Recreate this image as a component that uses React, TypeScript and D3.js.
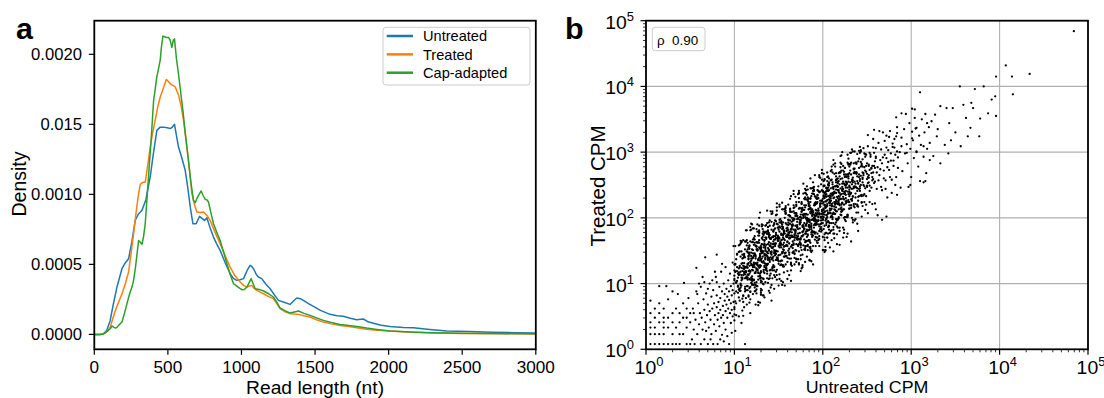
import React from "react";
import * as d3 from "d3";

// ---------- Panel a: read-length density ----------
const lengthTicks = [0, 500, 1000, 1500, 2000, 2500, 3000];
const densityTicks = [0, 0.0005, 0.001, 0.0015, 0.002];
const densityTickLabels = ["0.0000", "0.0005", "0.0010", "0.015", "0.0020"];
const seriesNames = ["Untreated", "Treated", "Cap-adapted"];
const seriesColors = ["#1f77b4", "#ff7f0e", "#2ca02c"];

const untreated: [number, number][] = [
  [0, 0], [40, 0], [63, 0.000005], [85, 0.00003], [108, 0.0001], [130, 0.00022], [154, 0.000338], [188, 0.000469], [210, 0.00051], [233, 0.00054], [255, 0.00066], [278, 0.000814], [300, 0.00086], [324, 0.000886], [350, 0.00096], [380, 0.001124], [400, 0.00128], [425, 0.001457], [448, 0.00148], [470, 0.00148], [495, 0.001475], [516, 0.00147], [530, 0.00148], [545, 0.0015], [572, 0.001338], [595, 0.00126], [618, 0.00117], [635, 0.00105], [652, 0.00091], [670, 0.00079], [692, 0.00079], [715, 0.000843], [730, 0.00083], [749, 0.000814], [765, 0.000833], [790, 0.00075], [810, 0.000695], [830, 0.00065], [855, 0.0006], [890, 0.00051], [923, 0.000433], [945, 0.0004], [968, 0.000386], [990, 0.00039], [1014, 0.000398], [1040, 0.00046], [1059, 0.000493], [1070, 0.000485], [1082, 0.000469], [1100, 0.00043], [1115, 0.00041], [1138, 0.000398], [1165, 0.00036], [1195, 0.000326], [1225, 0.00028], [1251, 0.000243], [1290, 0.00023], [1330, 0.000214], [1355, 0.00024], [1376, 0.00026], [1400, 0.000255], [1421, 0.000243], [1455, 0.00022], [1489, 0.0002], [1540, 0.00017], [1602, 0.000143], [1650, 0.000133], [1692, 0.000129], [1740, 0.000115], [1783, 0.000105], [1828, 0.00011], [1860, 0.00009], [1896, 0.00008], [1950, 0.000065], [2009, 0.000057], [2100, 0.00005], [2168, 0.000048], [2280, 0.000035], [2394, 0.000024], [2550, 0.00002], [2700, 0.000016], [2850, 0.000012], [3000, 0.00001],
];

const treated: [number, number][] = [
  [0, 0], [45, 0], [75, 0.00001], [95, 0.00003], [108, 0.000052], [125, 0.00011], [143, 0.000171], [165, 0.00023], [188, 0.00029], [210, 0.00036], [233, 0.000445], [250, 0.00058], [267, 0.00072], [285, 0.00088], [301, 0.001005], [312, 0.00107], [324, 0.001083], [346, 0.001088], [362, 0.0012], [380, 0.001338], [395, 0.00143], [414, 0.00153], [430, 0.00162], [448, 0.001695], [470, 0.00176], [489, 0.00182], [500, 0.00181], [516, 0.00179], [530, 0.00178], [550, 0.001767], [572, 0.00171], [590, 0.00163], [606, 0.00153], [622, 0.0014], [640, 0.00124], [652, 0.00112], [663, 0.001005], [680, 0.00093], [697, 0.000874], [720, 0.00087], [742, 0.000874], [765, 0.00085], [787, 0.000814], [820, 0.00073], [855, 0.000648], [890, 0.00056], [923, 0.00048], [955, 0.00042], [991, 0.000374], [1015, 0.00035], [1037, 0.000338], [1055, 0.000345], [1070, 0.00035], [1085, 0.00033], [1105, 0.000314], [1130, 0.0003], [1150, 0.00029], [1185, 0.00027], [1217, 0.000255], [1240, 0.00022], [1262, 0.000184], [1295, 0.000162], [1330, 0.000148], [1360, 0.000145], [1387, 0.000143], [1425, 0.000133], [1466, 0.000124], [1510, 0.000105], [1557, 0.000088], [1610, 0.000075], [1670, 0.000064], [1730, 0.000056], [1783, 0.000048], [1850, 0.000037], [1920, 0.00003], [2009, 0.000024], [2150, 0.000016], [2300, 0.00001], [2500, 0.000006], [2750, 0.000004], [3000, 0.000003],
];

const capAdapted: [number, number][] = [
  [0, 0], [40, 0], [63, 0.000003], [85, 0.00002], [108, 0.00004], [120, 0.00006], [131, 0.000052], [145, 0.000045], [154, 0.00005], [170, 0.00007], [188, 0.000088], [205, 0.00015], [222, 0.00022], [240, 0.00029], [256, 0.000338], [267, 0.000386], [280, 0.00048], [292, 0.00059], [301, 0.00067], [312, 0.00066], [324, 0.000643], [335, 0.0007], [346, 0.00079], [360, 0.001], [376, 0.00124], [390, 0.00145], [403, 0.00167], [415, 0.00176], [425, 0.00184], [437, 0.0019], [448, 0.00196], [456, 0.00205], [466, 0.00213], [478, 0.002125], [490, 0.00212], [505, 0.00212], [516, 0.0021], [527, 0.00205], [537, 0.0021], [545, 0.00211], [558, 0.00197], [572, 0.00186], [588, 0.00172], [602, 0.0016], [620, 0.00142], [640, 0.00124], [657, 0.00108], [674, 0.000957], [686, 0.00094], [697, 0.00097], [712, 0.001], [726, 0.001024], [740, 0.00099], [754, 0.000964], [766, 0.00096], [776, 0.000945], [792, 0.00087], [810, 0.00079], [832, 0.00073], [855, 0.00067], [878, 0.00059], [901, 0.000505], [923, 0.00043], [946, 0.000362], [975, 0.00034], [1002, 0.000319], [1020, 0.00032], [1037, 0.000338], [1052, 0.00037], [1066, 0.000398], [1080, 0.00036], [1093, 0.000326], [1120, 0.00032], [1150, 0.00031], [1185, 0.00029], [1217, 0.000267], [1240, 0.00023], [1262, 0.00019], [1295, 0.00017], [1330, 0.000152], [1360, 0.00016], [1387, 0.000167], [1425, 0.00015], [1466, 0.000136], [1510, 0.000118], [1557, 0.0001], [1610, 0.000085], [1670, 0.000071], [1730, 0.000064], [1783, 0.000057], [1850, 0.000045], [1920, 0.000035], [2009, 0.000024], [2150, 0.000017], [2300, 0.000012], [2500, 0.000008], [2750, 0.000006], [3000, 0.000004],
];

// ---------- Panel b: CPM scatter, values as 100*log10(CPM) [untreated, treated] ----------
const cpmDecades = [0, 1, 2, 3, 4, 5];
const rhoText = "ρ  0.90";

const scatterLow: [number, number][] = [
  [5,8],[10,8],[15,8],[20,8],[25,8],[30,8],[34,8],[38,8],[46,8],[50,8],[5,23],[10,23],[15,23],[20,23],[30,23],[38,23],[42,23],[5,33],[10,33],[20,33],[25,33],[34,33],[46,33],[5,41],[15,41],[20,41],[30,41],[38,41],[50,41],[10,48],[20,48],[25,48],[42,48],[46,48],[5,55],[15,55],[30,55],[38,55],[50,55],[10,62],[20,62],[34,62],[46,62],[5,74],[15,70],[25,76],[42,70],[48,78],[15,96],[23,96],[43,101],[57,124],[67,140],[30,88],[36,84],
  [52,15],[53,62],[54,30],[55,8],[56,45],[57,88],[58,23],[59,70],[60,38],[61,55],[62,8],[62,95],[63,48],[64,30],[65,76],[66,60],[66,15],[67,41],[68,85],[69,52],[70,8],[70,68],[71,33],[72,100],[72,58],[73,45],[74,23],[74,80],[75,62],[76,90],[76,8],[77,38],[77,70],[78,52],[79,110],[79,28],[80,64],[80,82],[81,45],[81,8],[82,72],[82,55],[83,95],[83,35],[84,60],[84,78],[85,118],[85,48],[86,22],[86,88],[87,66],[87,52],[88,100],[88,40],[89,74],[89,84],[90,58],[90,125],[90,30],[91,92],[91,68],[92,48],[92,80],[93,105],[93,62],[94,8],[94,88],[94,75],[95,55],[95,115],[96,70],[96,40],[96,96],[97,82],[97,60],[98,132],[98,90],[98,50],[99,72],[99,100],[100,64],[100,85],[100,112],[100,44],[84,15],[88,12],[92,20],[97,25],[66,102],[78,118],[58,84],[64,110],[70,92],[75,105],[86,130],[54,55],[60,100],[68,28],[73,15],[80,102],
  [112,8],[101,28],[129,71],[142,74],[118,55],[108,40],[80,144],[99,157],[108,164],[120,190],[129,208],
];

const scatterMid: [number, number][] = [
  [100,105],[101,130],[102,70],[103,119],[104,95],[105,148],[106,114],[107,89],[108,130],[109,109],[110,166],[111,64],[112,125],[113,109],[114,149],[115,90],[116,142],[117,120],[118,186],[119,106],[120,138],[121,84],[122,132],[123,162],[124,118],[125,156],[126,132],[127,67],[128,177],[129,128],[130,151],
  [130,109],[129,143],[128,188],[127,116],[126,150],[125,96],[124,157],[123,125],[122,131],[121,167],[120,104],[119,138],[118,76],[117,144],[116,113],[115,152],[114,126],[113,90],[112,164],[111,116],[110,139],[109,77],[108,124],[107,98],[106,149],[105,113],[104,86],[103,125],[102,102],[101,157],[100,53],
  [100,120],[101,73],[102,137],[103,104],[104,115],[105,91],[106,159],[107,100],[108,149],[109,59],[110,127],[111,118],[112,140],[113,78],[114,158],[115,96],[116,131],[117,115],[118,181],[119,109],[120,152],[121,125],[122,98],[123,146],[124,68],[125,163],[126,121],[127,136],[128,178],[129,112],[130,155],
  [130,89],[129,141],[128,162],[127,127],[126,96],[125,183],[124,116],[123,144],[122,128],[121,163],[120,100],[119,135],[118,106],[117,147],[116,80],[115,162],[114,111],[113,124],[112,114],[111,131],[110,82],[109,144],[108,109],[107,118],[106,92],[105,158],[104,97],[103,144],[102,52],[101,118],[100,107],
  [130,135],[131,160],[132,100],[133,149],[134,125],[135,178],[136,144],[137,119],[138,160],[139,139],[140,196],[141,94],[142,155],[143,139],[144,179],[145,120],[146,172],[147,150],[148,216],[149,136],[150,168],[151,114],[152,162],[153,192],[154,148],[155,186],[156,162],[157,97],[158,207],[159,158],[160,181],
  [160,139],[159,173],[158,218],[157,146],[156,180],[155,126],[154,187],[153,155],[152,161],[151,197],[150,134],[149,168],[148,106],[147,174],[146,143],[145,182],[144,156],[143,120],[142,194],[141,146],[140,169],[139,107],[138,154],[137,128],[136,179],[135,143],[134,116],[133,155],[132,132],[131,187],[130,83],
  [130,150],[131,103],[132,167],[133,134],[134,145],[135,121],[136,189],[137,130],[138,179],[139,89],[140,157],[141,148],[142,170],[143,108],[144,188],[145,126],[146,161],[147,145],[148,211],[149,139],[150,182],[151,155],[152,128],[153,176],[154,98],[155,193],[156,151],[157,166],[158,208],[159,142],[160,185],
  [160,119],[159,171],[158,192],[157,157],[156,126],[155,213],[154,146],[153,174],[152,158],[151,193],[150,130],[149,165],[148,136],[147,177],[146,110],[145,192],[144,141],[143,154],[142,144],[141,161],[140,112],[139,174],[138,139],[137,148],[136,122],[135,188],[134,127],[133,174],[132,82],[131,148],[130,137],
  [130,119],[131,146],[132,171],[133,99],[134,158],[135,140],[136,168],[137,115],[138,146],[139,193],[140,136],[141,168],[142,98],[143,160],[144,128],[145,190],[146,147],[147,169],[148,121],[149,185],[150,157],[151,217],[152,144],[153,166],[154,135],[155,184],[156,117],[157,176],[158,206],[159,158],[160,171],
];

const scatterCore: [number, number][] = [
  [161,197],[162,169],[163,229],[164,156],[165,178],[166,147],[167,196],[168,129],[169,188],[170,218],[171,170],[172,183],[173,160],[174,215],[175,169],[176,210],[177,125],[178,203],[179,183],[180,231],[181,157],[182,196],[183,181],[184,221],[185,155],[186,209],[187,197],[188,171],[189,246],[190,185],[191,219],
  [191,196],[190,219],[189,157],[188,204],[187,178],[186,229],[185,193],[184,166],[183,205],[182,182],[181,237],[180,133],[179,192],[178,174],[177,212],[176,151],[175,201],[174,177],[173,241],[172,159],[171,189],[170,133],[169,179],[168,207],[167,161],[166,197],[165,171],[164,104],[163,212],[162,161],[161,182],
  [161,178],[162,169],[163,191],[164,129],[165,209],[166,147],[167,182],[168,166],[169,232],[170,160],[171,203],[172,176],[173,149],[174,197],[175,119],[176,214],[177,172],[178,187],[179,229],[180,163],[181,206],[182,141],[183,195],[184,218],[185,185],[186,156],[187,245],[188,180],[189,210],[190,196],[191,233],
  [191,222],[190,196],[189,129],[188,237],[187,186],[186,207],[185,164],[184,198],[183,243],[182,171],[181,205],[180,151],[179,212],[178,180],[177,186],[176,222],[175,159],[174,193],[173,131],[172,199],[171,168],[170,207],[169,181],[168,145],[167,219],[166,171],[165,194],[164,132],[163,179],[162,153],[161,204],
  [161,150],[162,177],[163,202],[164,130],[165,189],[166,171],[167,199],[168,146],[169,177],[170,224],[171,167],[172,199],[173,129],[174,191],[175,159],[176,221],[177,178],[178,200],[179,152],[180,216],[181,188],[182,248],[183,175],[184,197],[185,166],[186,215],[187,148],[188,207],[189,237],[190,189],[191,202],
  [192,212],[193,165],[194,229],[195,196],[196,207],[197,183],[198,251],[199,192],[200,241],[201,151],[202,219],[203,210],[204,232],[205,170],[206,250],[207,188],[208,223],[209,207],[210,273],[211,201],[212,244],[213,217],[214,190],[215,238],[216,160],[217,255],[218,213],[219,228],[220,270],[221,204],[222,247],
  [222,211],[221,236],[220,259],[219,185],[218,242],[217,222],[216,248],[215,193],[214,222],[213,267],[212,208],[211,238],[210,166],[209,226],[208,192],[207,252],[206,207],[205,227],[204,177],[203,239],[202,209],[201,267],[200,192],[199,212],[198,179],[197,226],[196,157],[195,214],[194,242],[193,192],[192,203],
  [192,197],[193,222],[194,162],[195,211],[196,187],[197,240],[198,206],[199,181],[200,222],[201,201],[202,258],[203,156],[204,217],[205,201],[206,241],[207,182],[208,234],[209,212],[210,278],[211,198],[212,230],[213,176],[214,224],[215,254],[216,210],[217,248],[218,224],[219,159],[220,269],[221,220],[222,243],
  [222,260],[221,216],[220,229],[219,269],[218,201],[217,242],[216,175],[215,227],[214,248],[213,213],[212,182],[211,269],[210,202],[209,230],[208,214],[207,249],[206,186],[205,221],[204,192],[203,233],[202,166],[201,248],[200,197],[199,210],[198,200],[197,217],[196,168],[195,230],[194,195],[193,204],[192,178],
];

const scatterDense: [number, number][] = [
  [105,123],[106,89],[107,161],[108,105],[109,138],[110,81],[111,122],[112,152],[113,117],[114,68],[115,148],[116,137],[117,107],[118,164],[119,128],[120,98],[121,146],[122,184],[123,116],[124,138],[125,91],[126,162],[127,127],[128,200],[129,115],[130,149],[131,138],[132,176],[133,107],[134,161],[135,130],
  [135,137],[134,177],[133,121],[132,147],[131,190],[130,105],[129,153],[128,135],[127,163],[126,120],[125,85],[124,141],[123,172],[122,105],[121,151],[120,121],[119,130],[118,87],[117,158],[116,138],[115,106],[114,181],[113,118],[112,92],[111,145],[110,123],[109,107],[108,163],[107,94],[106,125],[105,50],
  [115,129],[116,82],[117,153],[118,118],[119,191],[120,106],[121,140],[122,129],[123,167],[124,98],[125,152],[126,121],[127,137],[128,179],[129,111],[130,153],[131,133],[132,189],[133,82],[134,165],[135,151],[136,127],[137,176],[138,101],[139,151],[140,188],[141,140],[142,170],[143,123],[144,164],[145,151],
  [145,167],[144,135],[143,210],[142,147],[141,121],[140,174],[139,152],[138,136],[137,192],[136,123],[135,154],[134,79],[133,159],[132,141],[131,169],[130,102],[129,145],[128,124],[127,173],[126,129],[125,157],[124,89],[123,144],[122,106],[121,184],[120,128],[119,147],[118,95],[117,127],[116,155],[115,114],
  [125,102],[126,152],[127,136],[128,166],[129,125],[130,92],[131,150],[132,183],[133,118],[134,166],[135,138],[136,149],[137,108],[138,181],[139,163],[140,133],[141,210],[142,149],[143,125],[144,180],[145,160],[146,146],[147,204],[148,137],[149,170],[150,97],[151,179],[152,163],[153,193],[154,128],[155,173],
  [155,128],[154,167],[153,195],[152,158],[151,107],[150,185],[149,172],[148,140],[147,195],[146,157],[145,125],[144,171],[143,207],[142,137],[141,157],[140,108],[139,177],[138,140],[137,211],[136,124],[135,156],[134,143],[133,179],[132,108],[131,160],[130,127],[129,141],[128,181],[127,111],[126,151],[125,129],
  [135,170],[136,159],[137,129],[138,186],[139,150],[140,120],[141,168],[142,206],[143,138],[144,160],[145,113],[146,184],[147,149],[148,222],[149,137],[150,171],[151,160],[152,198],[153,129],[154,183],[155,152],[156,168],[157,210],[158,142],[159,184],[160,164],[161,220],[162,113],[163,196],[164,182],[165,158],
  [165,127],[164,183],[163,214],[162,147],[161,193],[160,163],[159,172],[158,129],[157,200],[156,180],[155,148],[154,223],[153,160],[152,134],[151,187],[150,165],[149,149],[148,205],[147,136],[146,167],[145,92],[144,172],[143,154],[142,182],[141,115],[140,158],[139,137],[138,186],[137,142],[136,170],[135,102],
  [145,148],[146,159],[147,118],[148,191],[149,173],[150,143],[151,220],[152,159],[153,135],[154,190],[155,170],[156,156],[157,214],[158,147],[159,180],[160,107],[161,189],[162,173],[163,203],[164,138],[165,183],[166,164],[167,215],[168,173],[169,203],[170,137],[171,194],[172,158],[173,238],[174,184],[175,205],
  [175,155],[174,201],[173,237],[172,167],[171,187],[170,138],[169,207],[168,170],[167,241],[166,154],[165,186],[164,173],[163,209],[162,138],[161,190],[160,157],[159,171],[158,211],[157,141],[156,181],[155,159],[154,213],[153,104],[152,185],[151,169],[150,143],[149,190],[148,113],[147,161],[146,196],[145,146],
  [155,175],[156,141],[157,213],[158,157],[159,190],[160,133],[161,174],[162,204],[163,169],[164,120],[165,200],[166,189],[167,159],[168,216],[169,180],[170,150],[171,198],[172,236],[173,168],[174,190],[175,143],[176,214],[177,179],[178,252],[179,167],[180,201],[181,190],[182,228],[183,159],[184,213],[185,182],
  [185,189],[184,229],[183,173],[182,199],[181,242],[180,157],[179,205],[178,187],[177,215],[176,172],[175,137],[174,193],[173,224],[172,157],[171,203],[170,173],[169,182],[168,139],[167,210],[166,190],[165,158],[164,233],[163,170],[162,144],[161,197],[160,175],[159,159],[158,215],[157,146],[156,177],[155,102],
  [165,189],[166,159],[167,236],[168,175],[169,151],[170,206],[171,186],[172,172],[173,230],[174,163],[175,196],[176,123],[177,205],[178,189],[179,219],[180,154],[181,199],[182,180],[183,231],[184,189],[185,219],[186,153],[187,210],[188,174],[189,254],[190,200],[191,221],[192,171],[193,205],[194,235],[195,196],
  [195,211],[194,162],[193,231],[192,194],[191,265],[190,178],[189,210],[188,197],[187,233],[186,162],[185,214],[184,181],[183,195],[182,235],[181,165],[180,205],[179,183],[178,237],[177,128],[176,209],[175,193],[174,167],[173,214],[172,137],[171,185],[170,220],[169,170],[168,198],[167,149],[166,188],[165,173],
  [175,167],[176,224],[177,188],[178,158],[179,206],[180,244],[181,176],[182,198],[183,151],[184,222],[185,187],[186,260],[187,175],[188,209],[189,198],[190,236],[191,167],[192,221],[193,190],[194,206],[195,248],[196,180],[197,222],[198,202],[199,258],[200,151],[201,234],[202,220],[203,196],[204,245],[205,170],
  [205,256],[204,189],[203,235],[202,205],[201,214],[200,171],[199,242],[198,222],[197,190],[196,265],[195,202],[194,176],[193,229],[192,207],[191,191],[190,247],[189,178],[188,209],[187,134],[186,214],[185,196],[184,224],[183,157],[182,200],[181,179],[180,228],[179,184],[178,212],[177,144],[176,199],[175,161],
  [185,194],[186,224],[187,183],[188,150],[189,208],[190,241],[191,176],[192,224],[193,196],[194,207],[195,166],[196,239],[197,221],[198,191],[199,268],[200,207],[201,183],[202,238],[203,218],[204,204],[205,262],[206,195],[207,228],[208,155],[209,237],[210,221],[211,251],[212,186],[213,231],[214,212],[215,263],
  [215,257],[214,220],[213,169],[212,247],[211,234],[210,202],[209,257],[208,219],[207,187],[206,233],[205,269],[204,199],[203,219],[202,170],[201,239],[200,202],[199,273],[198,186],[197,218],[196,205],[195,241],[194,170],[193,222],[192,189],[191,203],[190,243],[189,173],[188,213],[187,191],[186,245],[185,136],
  [200,199],[201,232],[202,175],[203,216],[204,246],[205,211],[206,162],[207,242],[208,231],[209,201],[210,258],[211,222],[212,192],[213,240],[214,278],[215,210],[216,232],[217,185],[218,256],[219,221],[220,294],[221,209],[222,243],[223,232],[224,270],[225,201],[226,255],[227,224],[228,240],[229,282],[230,214],
  [230,247],[229,290],[228,205],[227,253],[226,235],[225,263],[224,220],[223,185],[222,241],[221,272],[220,205],[219,251],[218,221],[217,230],[216,187],[215,258],[214,238],[213,206],[212,281],[211,218],[210,192],[209,245],[208,223],[207,207],[206,263],[205,194],[204,225],[203,150],[202,230],[201,212],[200,240],
  [210,181],[211,254],[212,236],[213,206],[214,283],[215,222],[216,198],[217,253],[218,233],[219,219],[220,277],[221,210],[222,243],[223,170],[224,252],[225,236],[226,266],[227,201],[228,246],[229,227],[230,278],[231,236],[232,266],[233,200],[234,257],[235,221],[236,301],[237,247],[238,268],[239,218],[240,252],
];

const scatterExtra: [number, number][] = [
  [200,197],[201,224],[202,249],[203,177],[204,236],[205,218],[206,246],[207,193],[208,224],[209,271],[210,214],[211,246],[212,176],[213,238],[214,206],[215,268],[216,225],[217,247],[218,199],[219,263],[220,235],[221,295],[222,222],[223,244],[224,213],[225,262],[226,195],[227,254],[228,284],[229,236],[230,249],
  [230,243],[229,266],[228,204],[227,251],[226,225],[225,276],[224,240],[223,213],[222,252],[221,229],[220,284],[219,180],[218,239],[217,221],[216,259],[215,198],[214,248],[213,224],[212,288],[211,206],[210,236],[209,180],[208,226],[207,254],[206,208],[205,244],[204,218],[203,151],[202,259],[201,208],[200,229],
  [215,243],[216,196],[217,260],[218,227],[219,238],[220,214],[221,282],[222,223],[223,272],[224,182],[225,250],[226,241],[227,263],[228,201],[229,281],[230,219],[231,254],[232,238],[233,304],[234,232],[235,275],[236,248],[237,221],[238,269],[239,191],[240,286],[241,244],[242,259],[243,301],[244,235],[245,278],
  [245,269],[244,233],[243,303],[242,245],[241,276],[240,217],[239,256],[238,284],[237,247],[236,196],[235,274],[234,261],[233,229],[232,284],[231,246],[230,214],[229,260],[228,296],[227,226],[226,246],[225,197],[224,266],[223,229],[222,300],[221,213],[220,245],[219,232],[218,268],[217,197],[216,249],[215,216],
  [230,240],[231,282],[232,228],[233,256],[234,301],[235,218],[236,268],[237,252],[238,282],[239,241],[240,208],[241,266],[242,299],[243,234],[244,282],[245,254],[246,265],[247,224],[248,297],[249,279],[250,249],[251,326],[252,265],[253,241],[254,296],[255,276],[256,262],[257,320],[258,253],[259,286],[260,213],
  [260,306],[259,276],[258,334],[257,259],[256,279],[255,246],[254,293],[253,224],[252,281],[251,309],[250,259],[249,270],[248,245],[247,298],[246,250],[245,289],[244,202],[243,278],[242,256],[241,302],[240,226],[239,263],[238,246],[237,284],[236,216],[235,268],[234,254],[233,226],[232,299],[231,236],[230,268],
  [100,129],[101,118],[102,88],[103,145],[104,109],[105,79],[106,127],[107,165],[108,97],[109,119],[110,72],[111,143],[112,108],[113,181],[114,96],[115,130],[116,119],[117,157],[118,88],[119,142],[120,111],[121,127],[122,169],[123,101],[124,143],[125,123],[126,179],[127,72],[128,155],[129,141],[130,117],
  [130,86],[129,142],[128,173],[127,106],[126,152],[125,122],[124,131],[123,88],[122,159],[121,139],[120,107],[119,182],[118,119],[117,93],[116,146],[115,124],[114,108],[113,164],[112,95],[111,126],[110,51],[109,131],[108,113],[107,141],[106,74],[105,117],[104,96],[103,145],[102,101],[101,129],[100,61],
  [110,113],[111,141],[112,88],[113,119],[114,166],[115,109],[116,141],[117,71],[118,133],[119,101],[120,163],[121,120],[122,142],[123,94],[124,158],[125,130],[126,190],[127,117],[128,139],[129,108],[130,157],[131,90],[132,149],[133,179],[134,131],[135,144],[136,121],[137,176],[138,130],[139,171],[140,86],
  [180,176],[181,219],[182,192],[183,165],[184,213],[185,135],[186,230],[187,188],[188,203],[189,245],[190,179],[191,222],[192,157],[193,211],[194,234],[195,201],[196,172],[197,261],[198,196],[199,226],[200,212],[201,249],[202,188],[203,225],[204,198],[205,241],[206,176],[207,260],[208,211],[209,226],[210,218],
  [210,203],[209,233],[208,177],[207,223],[206,251],[205,205],[204,241],[203,215],[202,148],[201,256],[200,205],[199,226],[198,183],[197,217],[196,262],[195,190],[194,224],[193,170],[192,231],[191,199],[190,205],[189,241],[188,178],[187,212],[186,150],[185,218],[184,187],[183,226],[182,200],[181,164],[180,238],
];

const scatterHigh: [number, number][] = [
  [223,279],[224,177],[225,238],[226,222],[227,262],[228,203],[229,255],[230,233],[231,299],[232,219],[233,251],[234,197],[235,245],[236,275],[237,231],[238,269],[239,245],[240,180],[241,290],[242,241],[243,264],[244,223],[245,259],[246,306],[247,236],[248,272],[249,220],[250,283],[251,253],[252,261],[253,299],
  [253,249],[252,279],[251,207],[250,267],[249,233],[248,293],[247,248],[246,268],[245,218],[244,280],[243,250],[242,308],[241,233],[240,253],[239,220],[238,267],[237,198],[236,255],[235,283],[234,233],[233,244],[232,219],[231,272],[230,224],[229,263],[228,176],[227,252],[226,230],[225,276],[224,200],[223,237],
  [223,255],[224,228],[225,201],[226,249],[227,171],[228,266],[229,224],[230,239],[231,281],[232,215],[233,258],[234,193],[235,247],[236,270],[237,237],[238,208],[239,297],[240,232],[241,262],[242,248],[243,285],[244,224],[245,261],[246,234],[247,277],[248,212],[249,296],[250,247],[251,262],[252,254],[253,273],
  [255,275],[256,221],[257,269],[258,299],[259,255],[260,293],[261,269],[262,204],[263,314],[264,265],[265,288],[266,247],[267,283],[268,330],[269,260],[270,296],[271,244],[272,307],[273,277],[274,285],[275,323],[276,262],[277,298],[278,238],[279,308],[280,279],[281,320],[282,296],[283,262],[284,338],[285,292],
  [285,276],[284,301],[283,324],[282,250],[281,307],[280,287],[279,313],[278,258],[277,287],[276,332],[275,273],[274,303],[273,231],[272,291],[271,257],[270,317],[269,272],[268,292],[267,242],[266,304],[265,274],[264,332],[263,257],[262,277],[261,244],[260,291],[259,222],[258,279],[257,307],[256,257],[255,268],
  [287,300],[289,322],[290,271],[292,335],[293,298],[295,312],[296,283],[298,344],[299,305],[300,262],[302,318],[303,291],[305,336],[306,300],[308,278],[309,325],[311,311],[312,350],[314,293],[315,330],[317,268],[318,305],[320,338],[316,358],[304,352],[297,247],[310,256],[288,246],[294,358],[301,366],
  [484,484],[407,432],[414,415],[434,419],[396,415],[415,388],[382,400],[372,396],[355,400],[310,391],[304,365],[289,359],[283,353],[272,325],[284,329],[395,385],[391,380],[396,355],[387,359],[377,324],[367,337],[364,324],[356,309],[368,375],[370,367],[359,372],[347,367],[340,367],[333,370],[343,344],[327,357],[323,347],[318,344],[306,337],[301,331],[329,324],[338,311],[342,298],[321,314],[314,309],[333,283],[325,294],[316,256],[301,321],[295,299],[289,309],[306,301],[321,288],[232,164],[212,149],[272,202],[267,197],[284,235],[314,254],[299,250],[350,330],[362,352],[378,351],[345,318],[330,335],
];

const FONT = "'Liberation Sans', Arial, Helvetica, sans-serif";

function T(props: { x: number; y: number; size: number; anchor?: string; sx?: number; rot?: number; bold?: boolean; children: React.ReactNode }) {
  const { x, y, size, anchor = "start", sx = 1.06, rot = 0, bold = false, children } = props;
  return (
    <text
      transform={`translate(${x},${y}) scale(${sx},1)${rot ? ` rotate(${rot})` : ""}`}
      fontSize={size}
      textAnchor={anchor}
      fontWeight={bold ? "bold" : "normal"}
      style={{ whiteSpace: "pre" }}
    >
      {children}
    </text>
  );
}

export default function App() {
  const W = 1104;
  const H = 398;

  // Panel a frame
  const aL = 94.3, aR = 535.8, top = 20.7, bot = 349.3;
  const xL = d3.scaleLinear().domain([0, 3000]).range([aL, aR]);
  const yL = d3.scaleLinear().domain([-0.0001065, 0.00224]).range([bot, top]);
  const line = d3.line<[number, number]>().x((d) => xL(d[0])).y((d) => yL(d[1]));
  const series = [untreated, treated, capAdapted];

  // Panel b frame
  const bL = 646, bR = 1088;
  const xB = d3.scaleLog().domain([1, 1e5]).range([bL, bR]);
  const yB = d3.scaleLog().domain([1, 1e5]).range([bot, top]);
  const minors: number[] = [];
  for (let e = 0; e < 5; e++) for (let m = 2; m <= 9; m++) minors.push(m * Math.pow(10, e));
  const allPts = [...scatterLow, ...scatterMid, ...scatterCore, ...scatterDense, ...scatterExtra, ...scatterHigh];

  return (
    <svg width={W} height={H} style={{ position: "absolute", left: 0, top: 0 }} fontFamily={FONT}>
      <rect x={0} y={0} width={W} height={H} fill="#fff" />

      {/* ---------- Panel a ---------- */}
      <T x={16} y={39} size={29} bold sx={1.05}>a</T>
      <defs>
        <clipPath id="clipA"><rect x={aL} y={top} width={aR - aL} height={bot - top} /></clipPath>
      </defs>
      <g clipPath="url(#clipA)">
        {series.map((s, i) => (
          <path key={i} d={line(s) || ""} fill="none" stroke={seriesColors[i]} strokeWidth={1.5} strokeLinejoin="round" />
        ))}
      </g>
      <rect x={aL} y={top} width={aR - aL} height={bot - top} fill="none" stroke="#000" strokeWidth={1.8} />
      {lengthTicks.map((t) => (
        <g key={t}>
          <line x1={xL(t)} x2={xL(t)} y1={bot} y2={bot + 5.5} stroke="#000" strokeWidth={1.2} />
          <T x={xL(t)} y={372.7} size={16.2} anchor="middle">{t}</T>
        </g>
      ))}
      {densityTicks.map((t, i) => (
        <g key={t}>
          <line x1={aL - 5.5} x2={aL} y1={yL(t)} y2={yL(t)} stroke="#000" strokeWidth={1.2} />
          <T x={82} y={yL(t) + 5.8} size={16} anchor="end" sx={1.04}>{densityTickLabels[i]}</T>
        </g>
      ))}
      <T x={25.5} y={184} size={19.5} anchor="middle" rot={-90} sx={1.08}>Density</T>
      <T x={(aL + aR) / 2} y={394} size={18.7} anchor="middle" sx={1.03}>Read length (nt)</T>

      {/* legend */}
      <rect x={383} y={27.3} width={147} height={57.7} rx={3} fill="#fff" stroke="#cccccc" strokeWidth={1} />
      {seriesNames.map((n, i) => (
        <g key={n}>
          <line x1={386.7} x2={413} y1={36 + i * 18.35} y2={36 + i * 18.35} stroke={seriesColors[i]} strokeWidth={2.5} />
          <T x={423} y={36 + i * 18.35 + 5.2} size={14.3} sx={1.02}>{n}</T>
        </g>
      ))}

      {/* ---------- Panel b ---------- */}
      <T x={565} y={39} size={29} bold sx={1.05}>b</T>
      {cpmDecades.slice(1, 5).map((d) => (
        <g key={"g" + d}>
          <line x1={xB(Math.pow(10, d))} x2={xB(Math.pow(10, d))} y1={top} y2={bot} stroke="#b0b0b0" strokeWidth={1.1} />
          <line x1={bL} x2={bR} y1={yB(Math.pow(10, d))} y2={yB(Math.pow(10, d))} stroke="#b0b0b0" strokeWidth={1.1} />
        </g>
      ))}
      <g>
        {allPts.map((p, i) => (
          <circle key={i} cx={xB(Math.pow(10, p[0] / 100))} cy={yB(Math.pow(10, p[1] / 100))} r={1.15} fill="#000" />
        ))}
      </g>
      <rect x={bL} y={top} width={bR - bL} height={bot - top} fill="none" stroke="#000" strokeWidth={1.8} />
      {minors.map((m) => (
        <g key={"m" + m}>
          <line x1={xB(m)} x2={xB(m)} y1={bot} y2={bot + 3} stroke="#000" strokeWidth={0.8} />
          <line x1={bL - 3} x2={bL} y1={yB(m)} y2={yB(m)} stroke="#000" strokeWidth={0.8} />
        </g>
      ))}
      {cpmDecades.map((d) => (
        <g key={"d" + d}>
          <line x1={xB(Math.pow(10, d))} x2={xB(Math.pow(10, d))} y1={bot} y2={bot + 5.5} stroke="#000" strokeWidth={1.2} />
          <line x1={bL - 5.5} x2={bL} y1={yB(Math.pow(10, d))} y2={yB(Math.pow(10, d))} stroke="#000" strokeWidth={1.2} />
          <T x={xB(Math.pow(10, d)) + 3} y={373.8} size={18} anchor="middle" sx={1.08}>
            10<tspan fontSize={12} dy={-8}>{d}</tspan>
          </T>
          <T x={634} y={yB(Math.pow(10, d)) + 8} size={18} anchor="end" sx={1.08}>
            10<tspan fontSize={12} dy={-8}>{d}</tspan>
          </T>
        </g>
      ))}
      <T x={605} y={186} size={20.5} anchor="middle" rot={-90} sx={1}>Treated CPM</T>
      <T x={(bL + bR) / 2} y={393} size={17.3} anchor="middle" sx={1.03}>Untreated CPM</T>

      <rect x={652.3} y={27.3} width={52.7} height={23.4} rx={3} fill="#fff" stroke="#cccccc" strokeWidth={1} />
      <T x={657} y={44.5} size={12.8} sx={1.05}>{rhoText}</T>
    </svg>
  );
}
